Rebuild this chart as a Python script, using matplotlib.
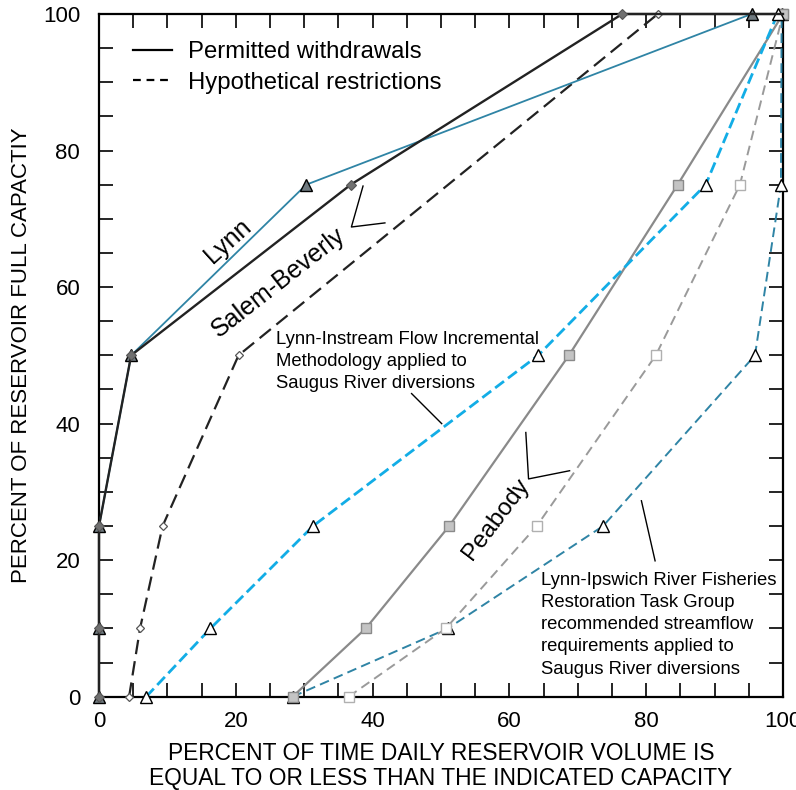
import matplotlib
matplotlib.use("Agg")
import matplotlib.pyplot as plt
from matplotlib.lines import Line2D

plt.rcParams['font.family'] = ['Liberation Sans', 'DejaVu Sans']

# ---- data (percent of time, percent of full capacity) ----
lynn_perm_x = [0, 0, 0, 4.7, 30.3, 95.4, 100]
lynn_perm_y = [0, 10, 25, 50, 75, 100, 100]

salem_perm_x = [0, 0, 0, 4.7, 36.8, 76.5, 100]
salem_perm_y = [0, 10, 25, 50, 75, 100, 100]

salem_hyp_x = [4.4, 6.0, 9.3, 20.4, 81.7]
salem_hyp_y = [0, 10, 25, 50, 100]

lynn_ifim_x = [6.9, 16.3, 31.3, 64.2, 88.7, 99.2]
lynn_ifim_y = [0, 10, 25, 50, 75, 100]

peab_perm_x = [28.3, 39.0, 51.2, 68.7, 84.6, 100]
peab_perm_y = [0, 10, 25, 50, 75, 100]

peab_hyp_x = [36.5, 50.7, 64.0, 81.4, 93.7, 100]
peab_hyp_y = [0, 10, 25, 50, 75, 100]

lynn_ipsw_x = [28.3, 51.0, 73.7, 95.9, 99.7, 99.8]
lynn_ipsw_y = [0, 10, 25, 50, 75, 100]

ticks = [0, 20, 40, 60, 80, 100]

# ---- styling ----
TEAL = '#2f84a5'
BLUE = '#12ade6'
GRAY = '#8a8a8a'
LGRAY = '#9a9a9a'

fig = plt.figure(figsize=(7.96, 7.90), dpi=100)
ax = fig.add_axes([99/796, 1 - 696.7/790, (783-99)/796, (696.7-14)/790])

common = dict(clip_on=False)
# Lynn-Ipswich (dashed teal, open triangles)
ax.plot(lynn_ipsw_x, lynn_ipsw_y, color=TEAL, lw=1.4, dashes=(5, 2.7),
        marker='^', ms=8.5, mfc='white', mec='black', mew=1.0, zorder=3, **common)
# Peabody hypothetical (dashed gray, open squares)
ax.plot(peab_hyp_x, peab_hyp_y, color=LGRAY, lw=1.4, dashes=(5, 3),
        marker='s', ms=6.5, mfc='white', mec='#b0b0b0', mew=1.0, zorder=3, **common)
# Peabody permitted (solid gray, filled squares)
ax.plot(peab_perm_x, peab_perm_y, color=GRAY, lw=1.6,
        marker='s', ms=6.5, mfc='#c4c4c4', mec='#8a8a8a', mew=1.0, zorder=3, **common)
# Lynn IFIM (dashed bright blue, open triangles)
ax.plot(lynn_ifim_x, lynn_ifim_y, color=BLUE, lw=2.0, dashes=(4, 1.8),
        marker='^', ms=8.5, mfc='white', mec='black', mew=1.0, zorder=3, **common)
# Salem-Beverly hypothetical (dashed black, open diamonds)
ax.plot(salem_hyp_x, salem_hyp_y, color='#222222', lw=1.6, dashes=(6.5, 3.2),
        marker='D', ms=4.5, mfc='white', mec='#555555', mew=0.9, zorder=3, **common)
# Lynn permitted (solid teal, gray triangles)
ax.plot(lynn_perm_x, lynn_perm_y, color=TEAL, lw=1.3, markevery=slice(0, -1),
        marker='^', ms=8.5, mfc='#6f7a80', mec='black', mew=1.0, zorder=3.9, **common)
# Salem-Beverly permitted (solid black, gray diamonds)
ax.plot(salem_perm_x, salem_perm_y, color='#222222', lw=1.7, markevery=slice(0, -1),
        marker='D', ms=5, mfc='#707070', mec='#555555', mew=0.8, zorder=4, **common)

ax.set_xlim(0, 100)
ax.set_ylim(0, 100)
ax.set_xticks(ticks)
ax.set_yticks(ticks)
ax.set_xticks(range(0, 101, 5), minor=True)
ax.set_yticks(range(0, 101, 5), minor=True)
ax.tick_params(which='both', direction='in', top=True, right=True,
               length=10, width=1.2)
ax.tick_params(axis='both', which='major', labelsize=16)
ax.tick_params(axis='x', pad=10)
ax.tick_params(axis='y', pad=13.5)
for s in ax.spines.values():
    s.set_linewidth(1.6)

ax.set_xlabel('PERCENT OF TIME DAILY RESERVOIR VOLUME IS\nEQUAL TO OR LESS THAN THE INDICATED CAPACITY',
              fontsize=16.4, linespacing=1.1)
ax.xaxis.set_label_coords(0.5, (696.7 - 742) / 682.7)
ax.set_ylabel('PERCENT OF RESERVOIR FULL CAPACTIY', fontsize=16)
ax.yaxis.set_label_coords((32 - 99) / 684, 0.5)

# legend
handles = [Line2D([], [], color='black', lw=1.6),
           Line2D([], [], color='black', lw=1.6, dashes=(3.5, 2.6))]
ax.legend(handles, ['Permitted withdrawals', 'Hypothetical restrictions'],
          loc='upper left', bbox_to_anchor=((133 - 99) / 684, (696.7 - 41) / 682.7),
          frameon=False, borderaxespad=0, borderpad=0,
          fontsize=17.2, handlelength=1.63, handletextpad=0.67, labelspacing=0.37)

# curve labels
ax.text(18.9, 66.7, 'Lynn', rotation=42, fontsize=18, ha='center', va='center')
ax.text(26.2, 60.6, 'Salem-Beverly', rotation=38, fontsize=18, ha='center', va='center')
ax.text(58.0, 26.0, 'Peabody', rotation=53, fontsize=17.5, ha='center', va='center')

ax.text(25.9, 53.5, 'Lynn-Instream Flow Incremental\nMethodology applied to\nSaugus River diversions',
        fontsize=13.3, ha='left', va='top', linespacing=1.38)
ax.text(64.6, 18.3, 'Lynn-Ipswich River Fisheries\nRestoration Task Group\nrecommended streamflow\nrequirements applied to\nSaugus River diversions',
        fontsize=13.3, ha='left', va='top', linespacing=1.4)

# leader lines
lk = dict(color='black', lw=1.0, zorder=2)
ax.plot([38.6, 36.9, 41.8], [74.8, 68.8, 69.4], **lk)
ax.plot([45.7, 50.1], [44.4, 40.0], **lk)
ax.plot([62.4, 62.8, 68.8], [38.7, 31.9, 33.1], **lk)
ax.plot([79.3, 81.3], [28.7, 19.9], **lk)

fig.savefig('out.png', dpi=100)
